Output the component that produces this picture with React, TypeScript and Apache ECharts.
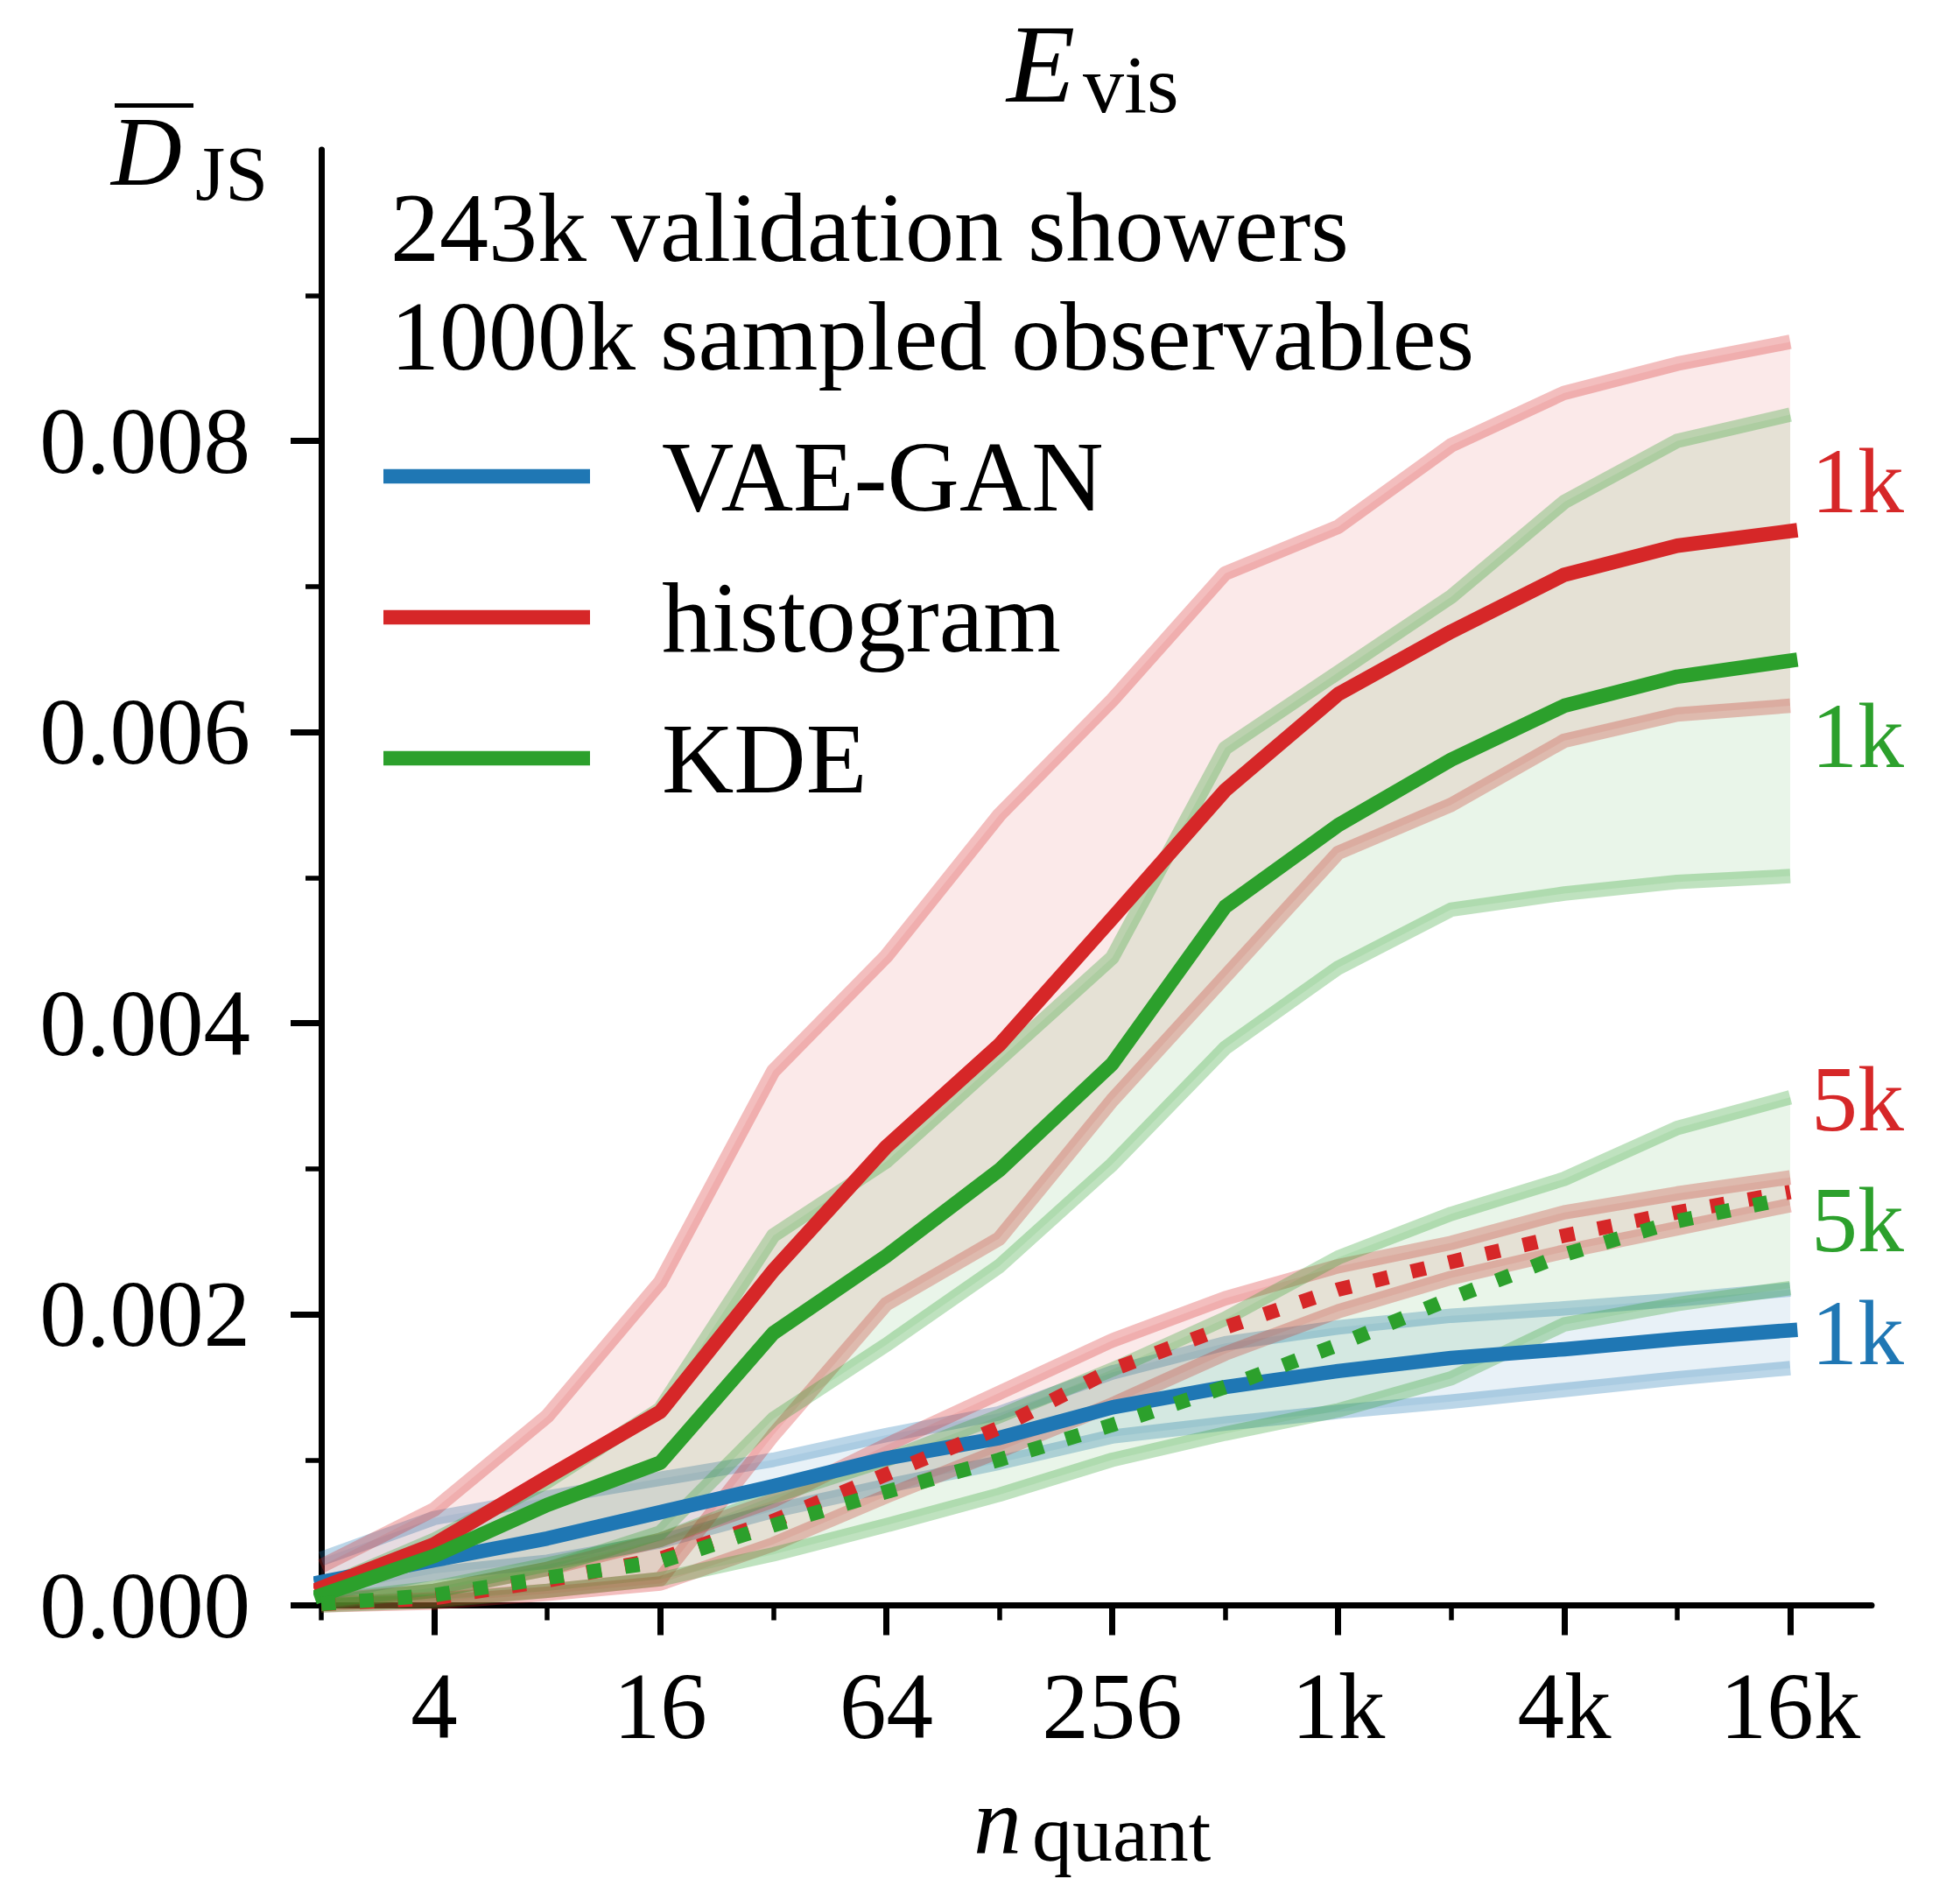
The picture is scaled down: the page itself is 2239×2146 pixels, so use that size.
import React, { useEffect, useRef } from 'react';
import * as echarts from 'echarts';

const WIDTH = 2239;
const HEIGHT = 2146;
const FONT = "'Liberation Serif', 'DejaVu Serif', serif";

// n_quant as log2 exponents: 2, 4, 8, ..., 16384
const log2N = [1, 2, 3, 4, 5, 6, 7, 8, 9, 10, 11, 12, 13, 14];
const majorX = [2, 4, 6, 8, 10, 12, 14];
const minorX = [1, 3, 5, 7, 9, 11, 13];
const majorY = [0, 0.002, 0.004, 0.006, 0.008];
const minorY = [0.001, 0.003, 0.005, 0.007, 0.009];

const methods = ['VAE-GAN', 'histogram', 'KDE'];
const colors = ['#1f77b4', '#d62728', '#2ca02c'];

// VAE-GAN, 1k samples
const vaeMean = [0.00016, 0.00031, 0.00046, 0.00064, 0.00082, 0.00101, 0.00115, 0.00136, 0.0015, 0.00161, 0.0017, 0.00176, 0.00183, 0.00189];
const vaeUpper = [0.00032, 0.0006, 0.00074, 0.00087, 0.001, 0.00117, 0.00132, 0.0016, 0.0018, 0.00191, 0.00199, 0.00204, 0.0021, 0.00217];
const vaeLower = [0.00008, 0.00022, 0.0003, 0.00044, 0.00065, 0.00082, 0.00098, 0.00116, 0.00125, 0.00133, 0.0014, 0.00148, 0.00156, 0.00163];

// histogram, 1k samples
const hist1kMean = [0.00012, 0.00042, 0.00088, 0.00133, 0.0023, 0.00315, 0.00385, 0.00472, 0.0056, 0.00626, 0.00669, 0.00708, 0.00728, 0.00738];
const hist1kUpper = [0.00027, 0.00066, 0.0013, 0.00222, 0.00367, 0.00446, 0.00543, 0.00622, 0.00709, 0.00741, 0.00797, 0.00833, 0.00853, 0.00868];
const hist1kLower = [0.00001, 0.00004, 0.0001, 0.00018, 0.00117, 0.00207, 0.00252, 0.00347, 0.00432, 0.00517, 0.0055, 0.00594, 0.00612, 0.00618];

// histogram, 5k samples
const hist5kMean = [0.00001, 0.00005, 0.00017, 0.00032, 0.00058, 0.0009, 0.00122, 0.00162, 0.00191, 0.00217, 0.00236, 0.00254, 0.0027, 0.00284];
const hist5kUpper = [0.00003, 0.0001, 0.00025, 0.00045, 0.00072, 0.0011, 0.00146, 0.00182, 0.00211, 0.00233, 0.00249, 0.0027, 0.00283, 0.00294];
const hist5kLower = [0, 0.00002, 0.00008, 0.00015, 0.00042, 0.00075, 0.00106, 0.00138, 0.00173, 0.00202, 0.00225, 0.00243, 0.00259, 0.00275];

// KDE, 1k samples
const kde1kMean = [0.00007, 0.00034, 0.00069, 0.00098, 0.00187, 0.0024, 0.00299, 0.00372, 0.0048, 0.00536, 0.00581, 0.00618, 0.00638, 0.00649];
const kde1kUpper = [0.00012, 0.00045, 0.00085, 0.00135, 0.00254, 0.00305, 0.00375, 0.00445, 0.00589, 0.00641, 0.00693, 0.00758, 0.008, 0.00818];
const kde1kLower = [0.00002, 0.0001, 0.00025, 0.0005, 0.00128, 0.00179, 0.00233, 0.00303, 0.00383, 0.00438, 0.00478, 0.00489, 0.00497, 0.00501];

// KDE, 5k samples
const kde5kMean = [0.00001, 0.00007, 0.00019, 0.0003, 0.00055, 0.00078, 0.001, 0.00124, 0.0015, 0.00179, 0.00211, 0.00241, 0.00264, 0.0028];
const kde5kUpper = [0.00003, 0.00012, 0.00028, 0.00045, 0.00075, 0.001, 0.0013, 0.00162, 0.00197, 0.00239, 0.00269, 0.00293, 0.00328, 0.00349];
const kde5kLower = [0, 0.00003, 0.0001, 0.00018, 0.00035, 0.00055, 0.00076, 0.001, 0.00118, 0.00134, 0.00156, 0.00193, 0.00207, 0.00218];

const infoLines = ['243k validation showers', '1000k sampled observables'];

const LW = 16.5;

const pairs = (ys: number[]) => ys.map((v, i) => [log2N[i], v]);

const fmtN = (e: number) => {
  const n = Math.pow(2, Math.round(e));
  return n >= 1024 ? `${n / 1024}k` : `${n}`;
};

function rgba(hex: string, a: number) {
  const r = parseInt(hex.slice(1, 3), 16);
  const g = parseInt(hex.slice(3, 5), 16);
  const b = parseInt(hex.slice(5, 7), 16);
  return `rgba(${r},${g},${b},${a})`;
}

// Shaded spread between lower and upper, with translucent thick edges
function bandSeries(key: string, lower: number[], upper: number[], color: string) {
  return {
    type: 'custom',
    name: key,
    silent: true,
    clip: false,
    data: log2N.map((x, i) => [x, lower[i], upper[i]]),
    encode: { x: 0, y: [1, 2] },
    renderItem: (params: any, api: any) => {
      if (params.dataIndex !== 0) return null;
      const up = log2N.map((x, i) => api.coord([x, upper[i]]));
      const lo = log2N.map((x, i) => api.coord([x, lower[i]]));
      const edge = {
        stroke: rgba(color, 0.3),
        lineWidth: LW,
        fill: null,
        lineJoin: 'round',
        lineCap: 'butt',
      };
      return {
        type: 'group',
        children: [
          {
            type: 'polygon',
            shape: { points: up.concat(lo.slice().reverse()) },
            style: { fill: rgba(color, 0.1), stroke: null },
          },
          { type: 'polyline', shape: { points: up }, style: edge },
          { type: 'polyline', shape: { points: lo }, style: edge },
        ],
      };
    },
  };
}

function meanSeries(
  name: string,
  ys: number[],
  color: string,
  dotted: boolean,
  tag: string,
  dy: number
) {
  return {
    type: 'line',
    name,
    data: pairs(ys),
    symbol: 'none',
    silent: true,
    emphasis: { disabled: true },
    lineStyle: {
      color,
      width: LW,
      type: dotted ? [LW, LW * 1.65] : 'solid',
      cap: dotted ? 'butt' : 'square',
      join: 'round',
    },
    endLabel: {
      show: true,
      formatter: tag,
      color,
      fontFamily: FONT,
      fontSize: 106,
      distance: 24,
      offset: [0, dy],
    },
  };
}

function textEl(text: string, x: number, y: number, size: number, italic = false, extra: any = {}) {
  return {
    type: 'text',
    x,
    y,
    silent: true,
    style: {
      text,
      fill: '#000',
      fontFamily: FONT,
      fontSize: size,
      fontStyle: italic ? 'italic' : 'normal',
      align: 'left',
      verticalAlign: 'middle',
      ...extra,
    },
  };
}

export default function App() {
  const ref = useRef<HTMLDivElement>(null);

  useEffect(() => {
    document.body.style.margin = '0';
    if (!ref.current) return;
    const chart = echarts.init(ref.current, undefined, { renderer: 'svg' });

    const legendY = [544, 705, 866];
    const legendGraphics: any[] = [];
    methods.forEach((m, i) => {
      legendGraphics.push({
        type: 'rect',
        silent: true,
        shape: { x: 438, y: legendY[i] - LW / 2, width: 236, height: LW },
        style: { fill: colors[i] },
      });
      legendGraphics.push(textEl(m, 756, legendY[i], 114));
    });

    const option: any = {
      animation: false,
      backgroundColor: '#ffffff',
      grid: {
        left: 367,
        right: 101,
        top: 171,
        bottom: 312.5,
        outerBoundsMode: 'none',
      },
      xAxis: [
        {
          type: 'value',
          min: 1,
          max: 14.72,
          interval: 1,
          axisLine: { show: true, onZero: false, lineStyle: { color: '#000', width: 7 } },
          axisTick: {
            show: true,
            customValues: majorX,
            length: 34,
            lineStyle: { color: '#000', width: 7 },
          },
          axisLabel: {
            show: true,
            customValues: majorX,
            formatter: (v: number) => fmtN(v),
            margin: 62,
            color: '#000',
            fontFamily: FONT,
            fontSize: 107,
          },
          splitLine: { show: false },
        },
        {
          type: 'value',
          min: 1,
          max: 14.72,
          interval: 1,
          position: 'bottom',
          axisLine: { show: false, onZero: false },
          axisTick: {
            show: true,
            customValues: minorX,
            length: 17,
            lineStyle: { color: '#000', width: 5.5 },
          },
          axisLabel: { show: false },
          splitLine: { show: false },
        },
      ],
      yAxis: [
        {
          type: 'value',
          min: 0,
          max: 0.01,
          interval: 0.002,
          axisLine: { show: true, onZero: false, lineStyle: { color: '#000', width: 7 } },
          axisTick: {
            show: true,
            customValues: majorY,
            length: 35,
            lineStyle: { color: '#000', width: 7 },
          },
          axisLabel: {
            show: true,
            customValues: majorY,
            formatter: (v: number) => v.toFixed(3),
            margin: 81,
            color: '#000',
            fontFamily: FONT,
            fontSize: 107,
          },
          splitLine: { show: false },
        },
        {
          type: 'value',
          min: 0,
          max: 0.01,
          interval: 0.001,
          position: 'left',
          axisLine: { show: false, onZero: false },
          axisTick: {
            show: true,
            customValues: minorY,
            length: 18,
            lineStyle: { color: '#000', width: 5.5 },
          },
          axisLabel: { show: false },
          splitLine: { show: false },
        },
      ],
      series: [
        bandSeries('vae1k', vaeLower, vaeUpper, colors[0]),
        meanSeries('VAE-GAN', vaeMean, colors[0], false, '1k', 3),
        bandSeries('hist1k', hist1kLower, hist1kUpper, colors[1]),
        meanSeries('histogram', hist1kMean, colors[1], false, '1k', -57),
        bandSeries('hist5k', hist5kLower, hist5kUpper, colors[1]),
        meanSeries('histogram 5k', hist5kMean, colors[1], true, '5k', -106),
        bandSeries('kde1k', kde1kLower, kde1kUpper, colors[2]),
        meanSeries('KDE', kde1kMean, colors[2], false, '1k', 86),
        bandSeries('kde5k', kde5kLower, kde5kUpper, colors[2]),
        meanSeries('KDE 5k', kde5kMean, colors[2], true, '5k', 25),
      ],
      graphic: [
        // title E_vis
        textEl('E', 1150, 73, 128, true),
        textEl('vis', 1237, 96, 94),
        // y-axis label: D-bar with subscript JS
        {
          type: 'line',
          silent: true,
          shape: { x1: 131, y1: 120.5, x2: 221, y2: 120.5 },
          style: { stroke: '#000', lineWidth: 5 },
        },
        textEl('D', 127, 173, 112, true),
        textEl('JS', 223, 198, 88),
        // x-axis label: n_quant
        textEl('n', 1112, 2080, 110, true),
        textEl('quant', 1179, 2094, 92),
        // info text, two lines
        textEl(infoLines[0], 446, 260, 112),
        textEl(infoLines[1], 446, 384, 112),
        ...legendGraphics,
      ],
    };

    chart.setOption(option);
    return () => {
      chart.dispose();
    };
  }, []);

  return <div ref={ref} style={{ width: WIDTH, height: HEIGHT }} />;
}
